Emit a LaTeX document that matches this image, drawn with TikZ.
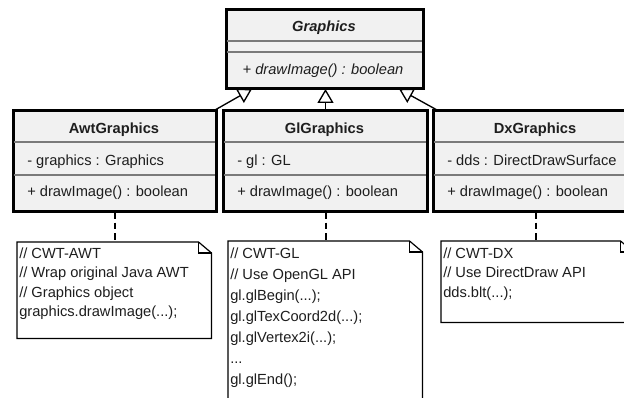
\documentclass[tikz,border=0pt]{standalone}
\usepackage{fontspec}
\setmainfont{Liberation Sans}
\usetikzlibrary{arrows.meta,calc,backgrounds}
\definecolor{boxfill}{HTML}{F1F1F1}
\definecolor{sepgray}{HTML}{7A7A7A}
\definecolor{txt}{HTML}{1E1E1E}
\newcommand\mydots{...}
\tikzset{
  cls/.style={draw=black, line width=1.5pt, fill=boxfill, rectangle, inner sep=0pt, anchor=north west},
  sepline/.style={draw=sepgray, line width=0.8pt},
  lbl/.style={font=\fontsize{11}{13}\selectfont, text=txt, inner sep=0pt},
  notebox/.style={rectangle, inner sep=0pt, anchor=north west},
  noteline/.style={draw=black, line width=0.9pt, line join=miter},
  gen/.style={draw=black, line width=1pt, -{Triangle[length=10.5pt,width=12pt,fill=white,line width=1pt]}},
  dep/.style={draw=black, line width=1.5pt, dash pattern=on 5pt off 3pt}
}
\begin{document}
\begin{tikzpicture}[x=0.75pt,y=-0.75pt]
\useasboundingbox (0,0) rectangle (624,398);
\clip (0,0) rectangle (624,398);

% ---------- class boxes ----------
\node[cls, minimum width=147pt, minimum height=58.5pt] (gfx) at (226,9) {};
\node[cls, minimum width=151.5pt, minimum height=75pt] (awt) at (13,110) {};
\node[cls, minimum width=152.25pt, minimum height=75pt] (gl) at (223,110) {};
\node[cls, minimum width=153pt, minimum height=75pt] (dx) at (433,110) {};

% separators
\draw[sepline] (226,41) -- (422,41);
\draw[sepline] (226,52) -- (422,52);
\foreach \l/\r in {13/215, 223/426, 433/637} {
  \draw[sepline] (\l,142) -- (\r,142);
  \draw[sepline] (\l,175) -- (\r,175);
}
% redraw outer borders over separators
\draw[line width=1.5pt] (gfx.north west) rectangle (gfx.south east);
\draw[line width=1.5pt] (awt.north west) rectangle (awt.south east);
\draw[line width=1.5pt] (gl.north west) rectangle (gl.south east);
\draw[line width=1.5pt] (dx.north west) rectangle (dx.south east);

% class texts
\node[lbl, anchor=base, font=\fontsize{11}{13}\selectfont\bfseries\itshape] (gfxname) at (324,32) {Graphics};
\node[lbl, anchor=base, font=\fontsize{11}{13}\selectfont\itshape] (gfxop) at (323,75) {+ drawImage() : boolean};

\node[lbl, anchor=base, font=\fontsize{11}{13}\selectfont\bfseries] (awtname) at (114,134) {AwtGraphics};
\node[lbl, anchor=base west] (awtattr) at (27,166) {- graphics : Graphics};
\node[lbl, anchor=base west] (awtop) at (27,197) {+ drawImage() : boolean};

\node[lbl, anchor=base, font=\fontsize{11}{13}\selectfont\bfseries] (glname) at (324.5,134) {GlGraphics};
\node[lbl, anchor=base west] (glattr) at (237,166) {- gl : GL};
\node[lbl, anchor=base west] (glop) at (237,197) {+ drawImage() : boolean};

\node[lbl, anchor=base, font=\fontsize{11}{13}\selectfont\bfseries] (dxname) at (535,134) {DxGraphics};
\node[lbl, anchor=base west] (dxattr) at (447,166) {- dds : DirectDrawSurface};
\node[lbl, anchor=base west] (dxop) at (447,197) {+ drawImage() : boolean};

% ---------- generalization arrows (behind boxes) ----------
\begin{pgfonlayer}{background}
\draw[gen] ($(awt.north east)+(-2,0)$) -- ($(gfx.south west)+(26,0)$);
\draw[gen] (gl.north) -- (gl.north |- gfx.south);
\draw[gen] ($(dx.north west)+(4,0)$) -- ($(gfx.south east)+(-25,0)$);
\end{pgfonlayer}

% ---------- notes ----------
\node[notebox, minimum width=145.5pt, minimum height=72pt] (awtn) at (17,242) {};
\node[notebox, minimum width=145.5pt, minimum height=130pt] (gln) at (228,241) {};
\node[notebox, minimum width=144pt, minimum height=60.75pt] (dxn) at (441,241) {};

\foreach \n in {awtn, gln, dxn} {
  \draw[noteline, fill=white] (\n.north west) -- ($(\n.north east)+(-13,0)$)
     -- ($(\n.north east)+(0,11)$) -- (\n.south east) -- (\n.south west) -- cycle;
  \draw[noteline] ($(\n.north east)+(-13,0)$) -- ($(\n.north east)+(-13,11)$) -- ($(\n.north east)+(0,11)$);
}

% dependency lines
\draw[dep] (awt.south) -- (awt.south |- awtn.north);
\draw[dep] (gl.south) -- (gl.south |- gln.north);
\draw[dep] (dx.south) -- (dx.south |- dxn.north);

% note texts
\foreach \t [count=\i] in {{// CWT-AWT}, {// Wrap original Java AWT}, {// Graphics object}, {graphics.drawImage(\mydots);}}
  \node[lbl, anchor=base west] (awtl\i) at (19,{258.5+19.5*(\i-1)}) {\t};

\foreach \t [count=\i] in {{// CWT-GL}, {// Use OpenGL API}, {gl.glBegin(\mydots);}, {gl.glTexCoord2d(\mydots);}, {gl.glVertex2i(\mydots);}, {\mydots}, {gl.glEnd();}}
  \node[lbl, anchor=base west] (gll\i) at (230,{259+21*(\i-1)}) {\t};

\foreach \t [count=\i] in {{// CWT-DX}, {// Use DirectDraw API}, {dds.blt(\mydots);}}
  \node[lbl, anchor=base west] (dxl\i) at (443,{258.5+19.5*(\i-1)}) {\t};

\end{tikzpicture}
\end{document}
